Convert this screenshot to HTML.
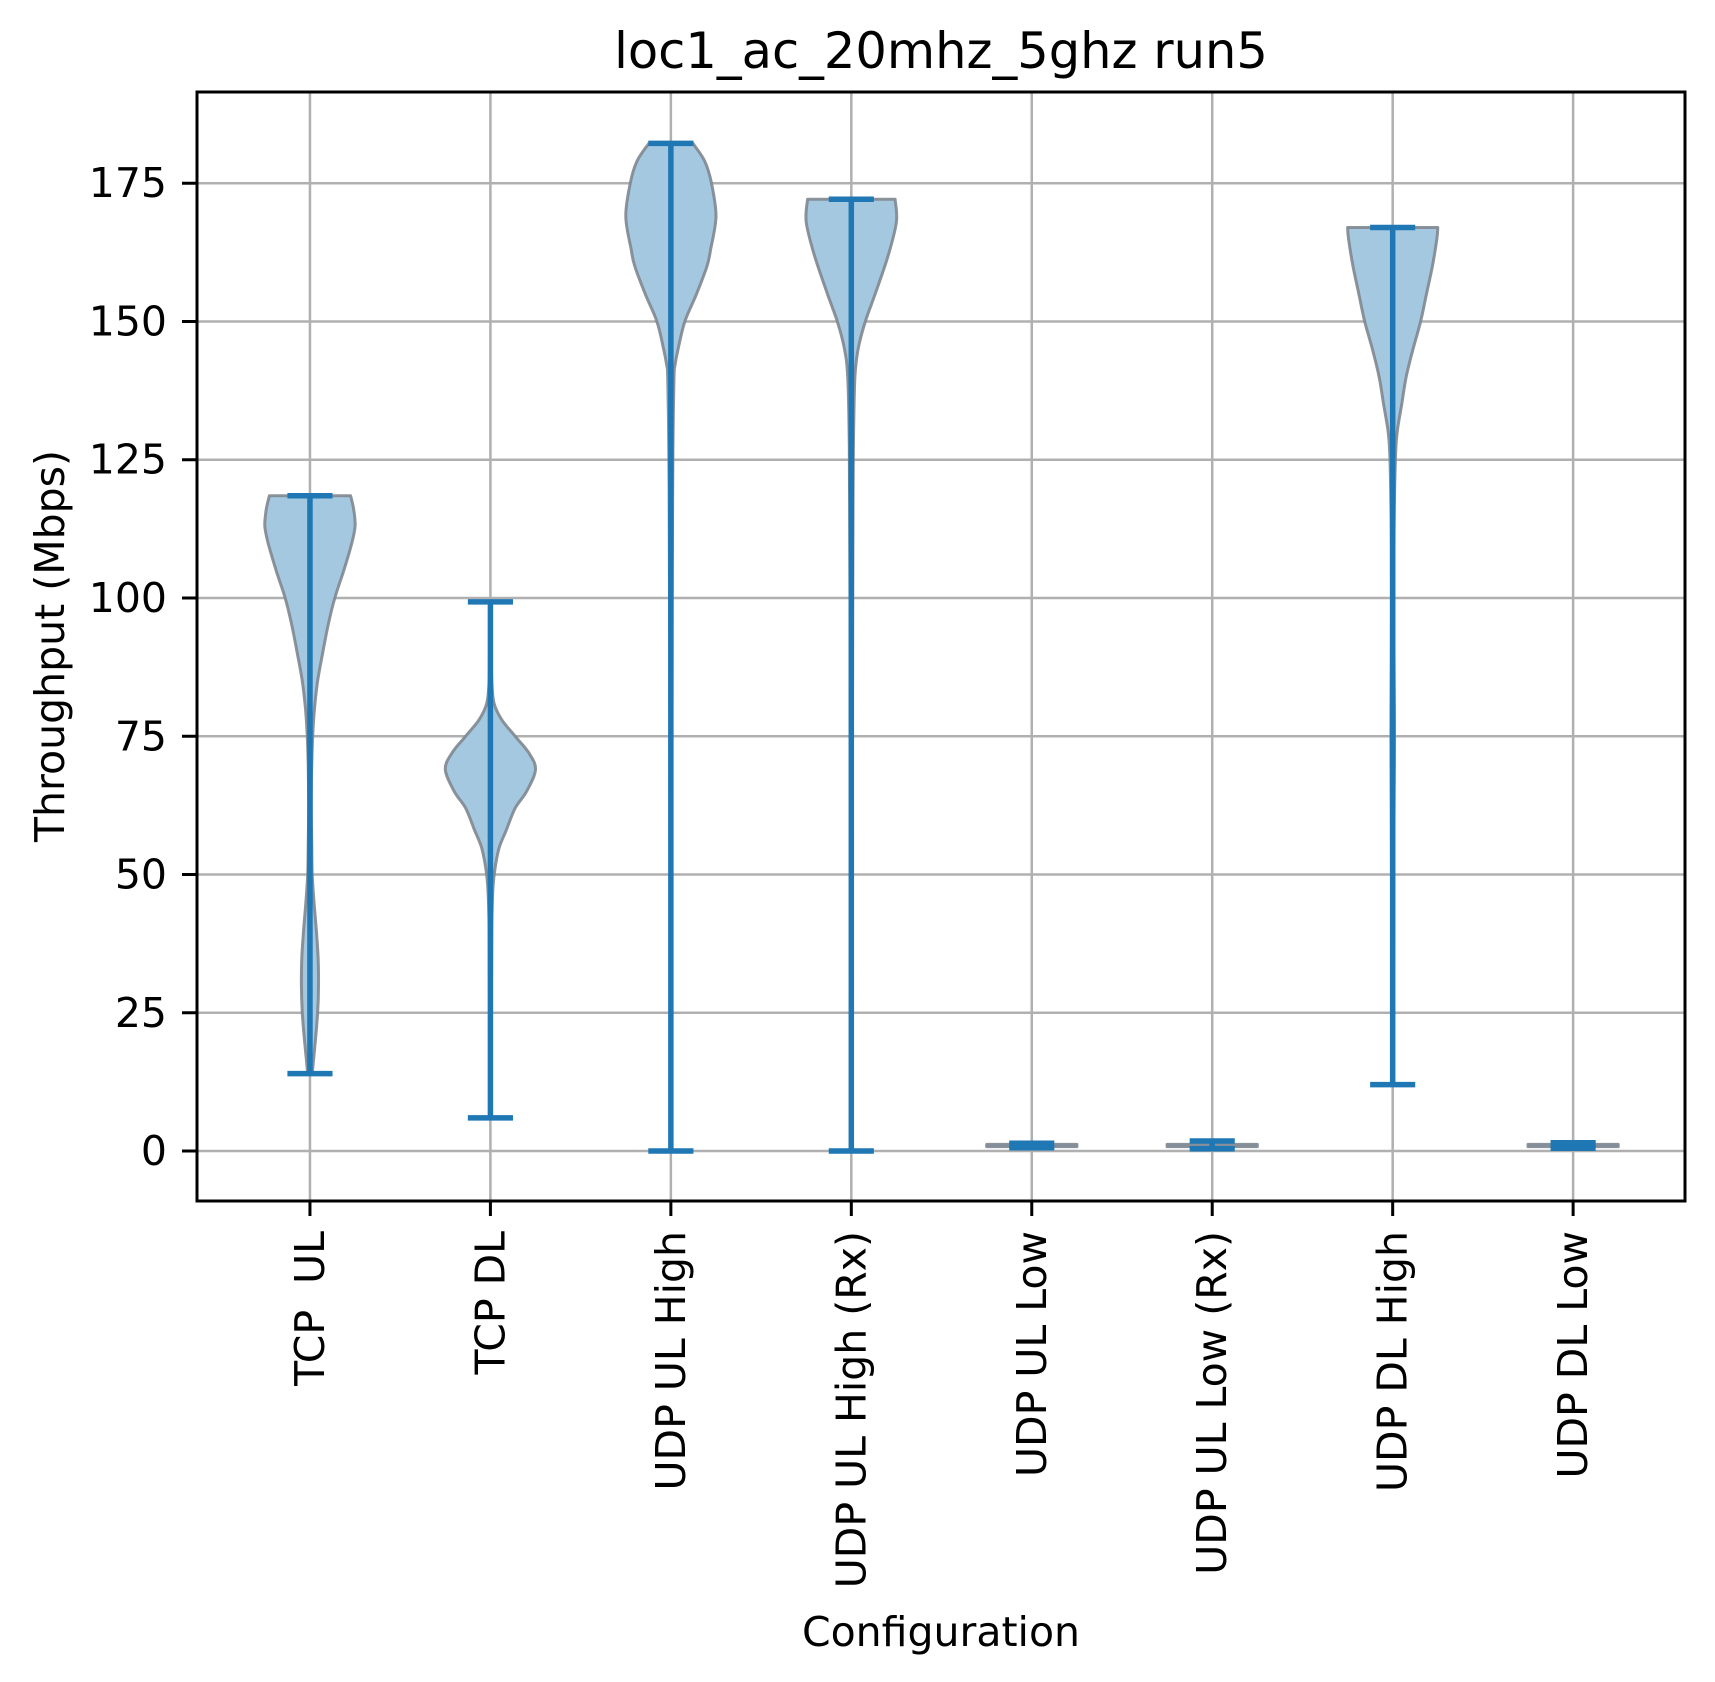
<!DOCTYPE html>
<html><head><meta charset="utf-8">
<style>
html,body{margin:0;padding:0;background:#fff;}
svg{display:block;font-family:"DejaVu Sans","Liberation Sans",sans-serif;}
</style></head>
<body>
<svg id="chart" width="1715" height="1682" viewBox="0 0 1715 1682" xmlns="http://www.w3.org/2000/svg">
<rect width="1715" height="1682" fill="#fff"/>
<text x="941" y="68" font-size="49.5" text-anchor="middle" fill="#000">loc1_ac_20mhz_5ghz run5</text>
<g id="grid"></g>
<g id="violins"></g>
<g id="axes"></g>
<text transform="translate(50,646) rotate(-90)" font-size="41" text-anchor="middle" dominant-baseline="central" fill="#000">Throughput (Mbps)</text>
<text x="941" y="1646" font-size="41" text-anchor="middle" fill="#000">Configuration</text>
</svg>
<script>
const categories = ["TCP\u00a0\u00a0UL","TCP DL","UDP UL High","UDP UL High (Rx)","UDP UL Low","UDP UL Low (Rx)","UDP DL High","UDP DL Low"];
const mins = [14, 6, 0, 0, 0.6, 0.4, 12, 0.5];
const maxs = [118.5, 99.3, 182.2, 172.1, 1.4, 1.8, 167, 1.5];
const yTicks = [0, 25, 50, 75, 100, 125, 150, 175];
const tcpUlY = [14,20,25,30,35,40,45,50,55,60,65,70,75,80,85,90,95,100,105,110,113,116,118.5];
const tcpUlD = [0.05,0.12,0.17,0.19,0.18,0.14,0.09,0.05,0.04,0.03,0.03,0.04,0.06,0.1,0.17,0.28,0.4,0.55,0.75,0.93,1.0,0.97,0.9];
const tcpDlY = [6,20,40,48,52,55,58,62,65,69,72,75,78,81,85,90,99.3];
const tcpDlD = [0.02,0.02,0.03,0.06,0.12,0.2,0.35,0.55,0.8,1.0,0.85,0.55,0.25,0.08,0.03,0.02,0.02];
const udpUlHighY = [0,20,50,100,120,130,140,142,145,150,155,160,163,169,175,179,182.2];
const udpUlHighD = [0.02,0.02,0.02,0.03,0.04,0.05,0.07,0.09,0.16,0.31,0.57,0.8,0.88,1.0,0.9,0.75,0.49];
const udpUlHighRxY = [0,50,100,120,130,140,145,150,155,162,168,172.1];
const udpUlHighRxD = [0.02,0.02,0.03,0.04,0.05,0.08,0.15,0.31,0.53,0.82,1.0,0.97];
const udpUlLowY = [0.8,1.0,1.2];
const udpUlLowD = [1,1,1];
const udpUlLowRxY = [0.8,1.0,1.2];
const udpUlLowRxD = [1,1,1];
const udpDlHighY = [12,30,60,75,90,110,125,130,135,140,145,150,155,160,165,167];
const udpDlHighD = [0.02,0.02,0.03,0.04,0.03,0.03,0.06,0.1,0.2,0.3,0.45,0.62,0.75,0.88,0.98,1.0];
const udpDlLowY = [0.8,1.0,1.2];
const udpDlLowD = [1,1,1];
const shapesY = [tcpUlY,tcpDlY,udpUlHighY,udpUlHighRxY,udpUlLowY,udpUlLowRxY,udpDlHighY,udpDlLowY];
const shapesD = [tcpUlD,tcpDlD,udpUlHighD,udpUlHighRxD,udpUlLowD,udpUlLowRxD,udpDlHighD,udpDlLowD];

const NS = "http://www.w3.org/2000/svg";
const L = 197, R = 1685, T = 92, B = 1201;
const yMin = -9.04, yMax = 191.5;
const xMin = 0.374, xMax = 8.62;
const yS = v => B - (v - yMin) / (yMax - yMin) * (B - T);
const xS = i => L + ((i + 1) - xMin) / (xMax - xMin) * (R - L);
const halfW = 0.25 * (xS(1) - xS(0));
const barW = halfW / 2;
function mk(tag, attrs, parent){ const e=document.createElementNS(NS,tag); for(const k in attrs) e.setAttribute(k,attrs[k]); parent.appendChild(e); return e; }
function smooth(pts){
  let d = 'M' + pts[0][0].toFixed(1) + ',' + pts[0][1].toFixed(1);
  for(let i=0;i<pts.length-1;i++){
    const p0 = pts[Math.max(0,i-1)], p1 = pts[i], p2 = pts[i+1], p3 = pts[Math.min(pts.length-1,i+2)];
    const c1 = [p1[0]+(p2[0]-p0[0])/6, p1[1]+(p2[1]-p0[1])/6];
    const c2 = [p2[0]-(p3[0]-p1[0])/6, p2[1]-(p3[1]-p1[1])/6];
    d += ` C${c1[0].toFixed(1)},${c1[1].toFixed(1)} ${c2[0].toFixed(1)},${c2[1].toFixed(1)} ${p2[0].toFixed(1)},${p2[1].toFixed(1)}`;
  }
  return d;
}

const grid = document.getElementById('grid');
yTicks.forEach(t=>{
  const g = mk('line',{x1:L,x2:R,y1:yS(t),y2:yS(t),stroke:'#b0b0b0','stroke-width':2.5},grid);
  
  
});
categories.forEach((c,i)=>{
  const g = mk('line',{x1:xS(i),x2:xS(i),y1:T,y2:B,stroke:'#b0b0b0','stroke-width':2.5},grid);
  
  
});

const vg = document.getElementById('violins');
categories.forEach((c,i)=>{
  const cx = xS(i), ys = shapesY[i], ds = shapesD[i];
  const right = [], left = [];
  for(let k=0;k<ys.length;k++) right.push([cx + ds[k]*halfW, yS(ys[k])]);
  for(let k=ys.length-1;k>=0;k--) left.push([cx - ds[k]*halfW, yS(ys[k])]);
  let d = smooth(right) + ' L' + left[0][0].toFixed(1)+','+left[0][1].toFixed(1) + smooth(left).replace(/^M[^C]*/,' ') + ' Z';
  const body = mk('path',{d:d,fill:'#a5c8e1',stroke:'#7f8790','stroke-width':3,'stroke-linejoin':'round','stroke-opacity':0.9},vg);
  
  
  const stem = mk('line',{x1:cx,x2:cx,y1:yS(mins[i]),y2:yS(maxs[i]),stroke:'#1f77b4','stroke-width':5.5},vg);
  
  
  const mx = mk('line',{x1:cx-barW,x2:cx+barW,y1:yS(maxs[i]),y2:yS(maxs[i]),stroke:'#1f77b4','stroke-width':5.5},vg);
  
  
  const mn = mk('line',{x1:cx-barW,x2:cx+barW,y1:yS(mins[i]),y2:yS(mins[i]),stroke:'#1f77b4','stroke-width':5.5},vg);
  
  
});

const ax = document.getElementById('axes');
const frame = mk('rect',{x:L,y:T,width:R-L,height:B-T,fill:'none',stroke:'#000','stroke-width':3},ax);


yTicks.forEach(t=>{
  const tk = mk('line',{x1:L-15,x2:L,y1:yS(t),y2:yS(t),stroke:'#000','stroke-width':3},ax);
  
  
  const lb = mk('text',{x:L-30,y:yS(t),'font-size':41,'text-anchor':'end','dominant-baseline':'central',fill:'#000'},ax);
  lb.textContent = String(t);
  
  
});
categories.forEach((c,i)=>{
  const x = xS(i);
  const tk = mk('line',{x1:x,x2:x,y1:B,y2:B+15,stroke:'#000','stroke-width':3},ax);
  
  
  const lb = mk('text',{transform:`translate(${x},1231) rotate(-90)`,'font-size':41,'text-anchor':'end','dominant-baseline':'central',fill:'#000'},ax);
  lb.textContent = c;
  
  
});
</script>
</body></html>
